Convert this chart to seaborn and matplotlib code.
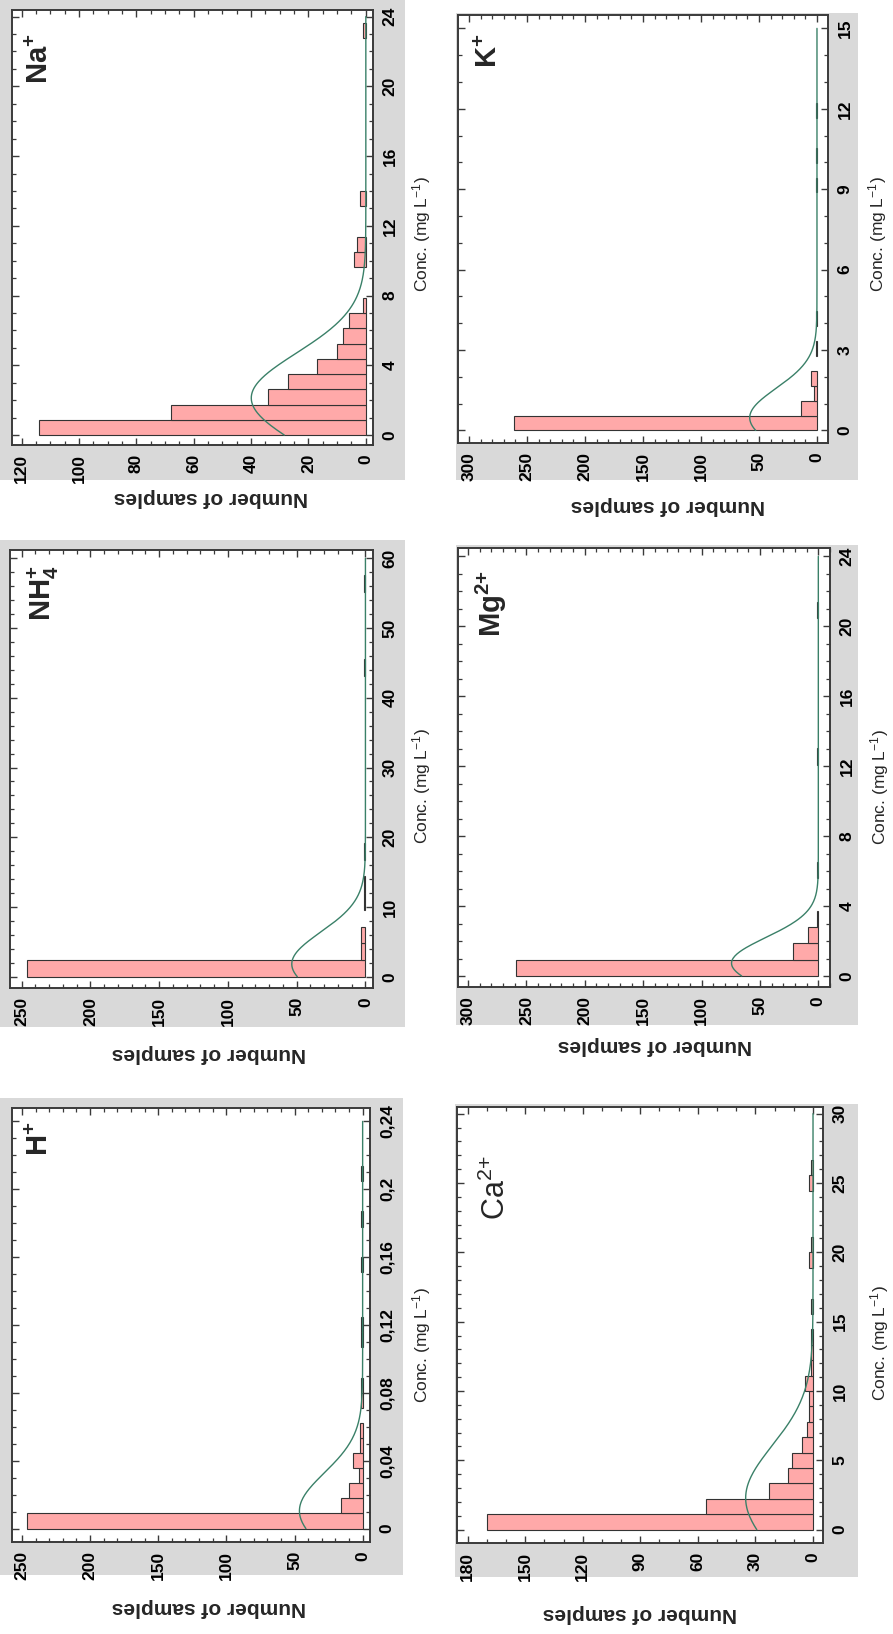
import numpy as np
import pandas as pd
import matplotlib
matplotlib.use("Agg")
import matplotlib.pyplot as plt
import seaborn as sns
from matplotlib.patches import Rectangle
from matplotlib.ticker import FixedLocator, MultipleLocator, FixedFormatter

# ---------------------------------------------------------------------------
# Histogram counts per ion: bins start at 0 and share one width per ion
# ---------------------------------------------------------------------------
h_width = 0.0089
h_counts = [246, 16, 10, 3, 7, 2, 2, 0, 1, 1, 0, 0, 1, 1, 0, 0, 0, 1, 0, 0, 1, 0, 0, 1]

nh4_width = 2.4
nh4_counts = [246, 3, 3, 0, 1, 1, 0, 1, 0, 0, 0, 0, 0, 0, 0, 0, 0, 0, 1, 0, 0, 0, 0, 1]

na_width = 0.875
na_counts = [114, 68, 34, 27, 17, 10, 8, 6, 1, 0, 0, 4, 3, 0, 0, 2,
             0, 0, 0, 0, 0, 0, 0, 0, 0, 0, 1]

ca_width = 30 / 27
ca_counts = [170, 56, 23, 13, 11, 6, 3, 2, 2, 4, 1, 1, 1, 0, 1, 0, 0, 2, 1, 0, 0, 0, 2, 1]

mg_width = 0.93
mg_counts = [259, 22, 9, 1, 0, 0, 1, 0, 0, 0, 0, 0, 0, 1, 0, 0, 0, 0, 0, 0, 0, 0, 1]

k_width = 0.555
k_counts = [261, 14, 3, 5, 0, 1, 0, 1, 0, 0, 0, 0, 0, 0, 0, 0, 1, 0, 1, 0, 0, 1]

# Tick values and labels
h_conc_ticks = [0, 0.04, 0.08, 0.12, 0.16, 0.2, 0.24]
h_conc_labels = ["0", "0,04", "0,08", "0,12", "0,16", "0,2", "0,24"]
h_count_ticks = [0, 50, 100, 150, 200, 250]

nh4_conc_ticks = [0, 10, 20, 30, 40, 50, 60]
nh4_count_ticks = [0, 50, 100, 150, 200, 250]

na_conc_ticks = [0, 4, 8, 12, 16, 20, 24]
na_count_ticks = [0, 20, 40, 60, 80, 100, 120]

ca_conc_ticks = [0, 5, 10, 15, 20, 25, 30]
ca_count_ticks = [0, 30, 60, 90, 120, 150, 180]

mg_conc_ticks = [0, 4, 8, 12, 16, 20, 24]
mg_count_ticks = [0, 50, 100, 150, 200, 250, 300]

k_conc_ticks = [0, 3, 6, 9, 12, 15]
k_count_ticks = [0, 50, 100, 150, 200, 250, 300]

ion_names = [r"$\mathbf{H^{+}}$", r"$\mathbf{NH_4^{+}}$", r"$\mathbf{Na^{+}}$",
             r"$\mathrm{Ca^{2{+}}}$", r"$\mathbf{Mg^{2{+}}}$", r"$\mathbf{K^{+}}$"]

xlabel_text = r"Conc. (mg L$^{-1}$)"
ylabel_text = "Number of samples"

panels = [
    dict(name=ion_names[0], width=h_width, counts=h_counts,
         conc_ticks=h_conc_ticks, conc_labels=h_conc_labels, count_ticks=h_count_ticks),
    dict(name=ion_names[1], width=nh4_width, counts=nh4_counts,
         conc_ticks=nh4_conc_ticks, conc_labels=None, count_ticks=nh4_count_ticks),
    dict(name=ion_names[2], width=na_width, counts=na_counts,
         conc_ticks=na_conc_ticks, conc_labels=None, count_ticks=na_count_ticks),
    dict(name=ion_names[3], width=ca_width, counts=ca_counts,
         conc_ticks=ca_conc_ticks, conc_labels=None, count_ticks=ca_count_ticks),
    dict(name=ion_names[4], width=mg_width, counts=mg_counts,
         conc_ticks=mg_conc_ticks, conc_labels=None, count_ticks=mg_count_ticks),
    dict(name=ion_names[5], width=k_width, counts=k_counts,
         conc_ticks=k_conc_ticks, conc_labels=None, count_ticks=k_count_ticks),
]

# ---------------------------------------------------------------------------
# Page layout (pixels from top-left); the sheet is laid out turned a
# quarter turn, concentration running upwards and counts running leftwards.
# ---------------------------------------------------------------------------
layout = [
    dict(frame=(12, 1108, 370, 1542), gray=(0, 1098, 403, 1575),
         count_lim=(-5.4, 257.3), conc_lim=(-0.0079, 0.2479),
         conc_minor=0.01, count_minor=10, title=(26, 1122), bold=True,
         ylab=(209, 1607), xlab=(422, 1345)),
    dict(frame=(10, 550, 373, 988), gray=(0, 540, 405, 1027),
         count_lim=(-5.5, 258.5), conc_lim=(-1.62, 61.2),
         conc_minor=2, count_minor=10, title=(26, 566), bold=True,
         ylab=(209, 1054), xlab=(422, 786)),
    dict(frame=(12, 10, 373, 445), gray=(0, 0, 405, 480),
         count_lim=(-2.5, 123.4), conc_lim=(-0.57, 24.38),
         conc_minor=1, count_minor=5, title=(26, 33), bold=True,
         ylab=(211, 498), xlab=(422, 234)),
    dict(frame=(457, 1107, 823, 1543), gray=(455, 1104, 858, 1577),
         count_lim=(-5.2, 185.5), conc_lim=(-0.96, 30.48),
         conc_minor=1, count_minor=10, title=(481, 1155), bold=False,
         ylab=(640, 1613), xlab=(880, 1343)),
    dict(frame=(458, 548, 830, 987), gray=(456, 545, 858, 1025),
         count_lim=(-10.0, 308.6), conc_lim=(-0.63, 24.48),
         conc_minor=1, count_minor=10, title=(474, 570), bold=True,
         ylab=(655, 1046), xlab=(880, 787)),
    dict(frame=(458, 15, 828, 443), gray=(456, 13, 858, 480),
         count_lim=(-9.5, 309.5), conc_lim=(-0.47, 15.5),
         conc_minor=1, count_minor=10, title=(475, 34), bold=True,
         ylab=(668, 505), xlab=(878, 234)),
]

W, H = 893, 1634
PINK = "#ffa9a9"
EDGE = "#333333"
CURVE = "#3a8068"
GRAY = "#d9d9d9"
FRAME = "#3a3a3a"

sns.set_theme(style="white")
plt.rcParams["font.family"] = ["Liberation Sans", "DejaVu Sans"]
plt.rcParams["mathtext.fontset"] = "custom"
plt.rcParams["mathtext.rm"] = "Liberation Sans"
plt.rcParams["mathtext.bf"] = "Liberation Sans:bold"
plt.rcParams["mathtext.it"] = "Liberation Sans:italic"

fig = plt.figure(figsize=(W / 100, H / 100), dpi=100)
fig.patch.set_facecolor("white")


def fig_rect(x0, y0, x1, y1):
    return [x0 / W, 1 - y1 / H, (x1 - x0) / W, (y1 - y0) / H]


for spec, lay in zip(panels, layout):
    gx0, gy0, gx1, gy1 = lay["gray"]
    fig.add_artist(Rectangle((gx0 / W, 1 - gy1 / H), (gx1 - gx0) / W, (gy1 - gy0) / H,
                             transform=fig.transFigure, facecolor=GRAY,
                             edgecolor="none", zorder=-5))

    ax = fig.add_axes(fig_rect(*lay["frame"]))
    ax.set_facecolor("white")

    counts = np.asarray(spec["counts"], dtype=float)
    w = spec["width"]
    nbins = len(counts)
    centers = (np.arange(nbins) + 0.5) * w
    binned = pd.DataFrame({"conc": centers, "n": counts})

    sns.histplot(data=binned, y="conc", weights="n", bins=nbins,
                 binrange=(0.0, nbins * w), ax=ax, stat="count",
                 color=PINK, edgecolor=EDGE, linewidth=0.8, alpha=1.0)
    for p in ax.patches:
        if p.get_width() == 0:
            p.set_visible(False)

    # normal curve fitted to the binned sample, scaled to counts per bin
    n = counts.sum()
    mean = np.sum(counts * centers) / n
    sd = np.sqrt(np.sum(counts * (centers - mean) ** 2) / n)
    conc = np.linspace(0, spec["conc_ticks"][-1], 400)
    fit = n * w / (sd * np.sqrt(2 * np.pi)) * np.exp(-0.5 * ((conc - mean) / sd) ** 2)
    curve = pd.DataFrame({"conc": conc, "fit": fit})
    sns.lineplot(data=curve, x="fit", y="conc", orient="y", sort=False, estimator=None,
                 ax=ax, color=CURVE, linewidth=1.0, zorder=5)

    lo, hi = lay["count_lim"]
    ax.set_xlim(hi, lo)
    ax.set_ylim(*lay["conc_lim"])
    ax.set_xlabel("")
    ax.set_ylabel("")

    ax.yaxis.set_major_locator(FixedLocator(spec["conc_ticks"]))
    if spec["conc_labels"] is not None:
        ax.yaxis.set_major_formatter(FixedFormatter(spec["conc_labels"]))
    else:
        ax.yaxis.set_major_formatter(FixedFormatter([str(v) for v in spec["conc_ticks"]]))
    ax.yaxis.set_minor_locator(MultipleLocator(lay["conc_minor"]))
    ax.xaxis.set_major_locator(FixedLocator(spec["count_ticks"]))
    ax.xaxis.set_major_formatter(FixedFormatter([str(v) for v in spec["count_ticks"]]))
    ax.xaxis.set_minor_locator(MultipleLocator(lay["count_minor"]))

    ax.tick_params(axis="both", which="both", direction="in", color=FRAME,
                   top=True, bottom=True, left=True, right=True)
    ax.tick_params(axis="both", which="major", length=5, width=1.0, labelsize=12.5,
                   labelcolor="black", labelrotation=90)
    ax.tick_params(axis="both", which="minor", length=2.8, width=0.9)
    ax.tick_params(axis="y", labelleft=False, labelright=True, pad=7)
    ax.tick_params(axis="x", labelbottom=True, labeltop=False, pad=6.5)
    for lab in ax.get_yticklabels():
        lab.set_fontweight("bold")
        lab.set_verticalalignment("center")
        lab.set_horizontalalignment("left")
    for lab in ax.get_xticklabels():
        lab.set_fontweight("bold")
        lab.set_verticalalignment("top")
        lab.set_horizontalalignment("center")

    for s in ax.spines.values():
        s.set_visible(True)
        s.set_color(FRAME)
        s.set_linewidth(1.4)

    tx, ty = lay["title"]
    fig.text(tx / W, 1 - ty / H, spec["name"], rotation=90, ha="left", va="top",
             fontsize=21 if lay["bold"] else 22,
             fontweight="bold" if lay["bold"] else "normal")

    lx, ly = lay["xlab"]
    fig.text(lx / W, 1 - ly / H, xlabel_text, rotation=90, ha="center", va="center",
             fontsize=12.5)
    yx, yy = lay["ylab"]
    fig.text(yx / W, 1 - yy / H, ylabel_text, rotation=180, ha="center", va="center",
             fontsize=15, fontweight="bold")

fig.savefig("out.png", dpi=100, facecolor="white")
